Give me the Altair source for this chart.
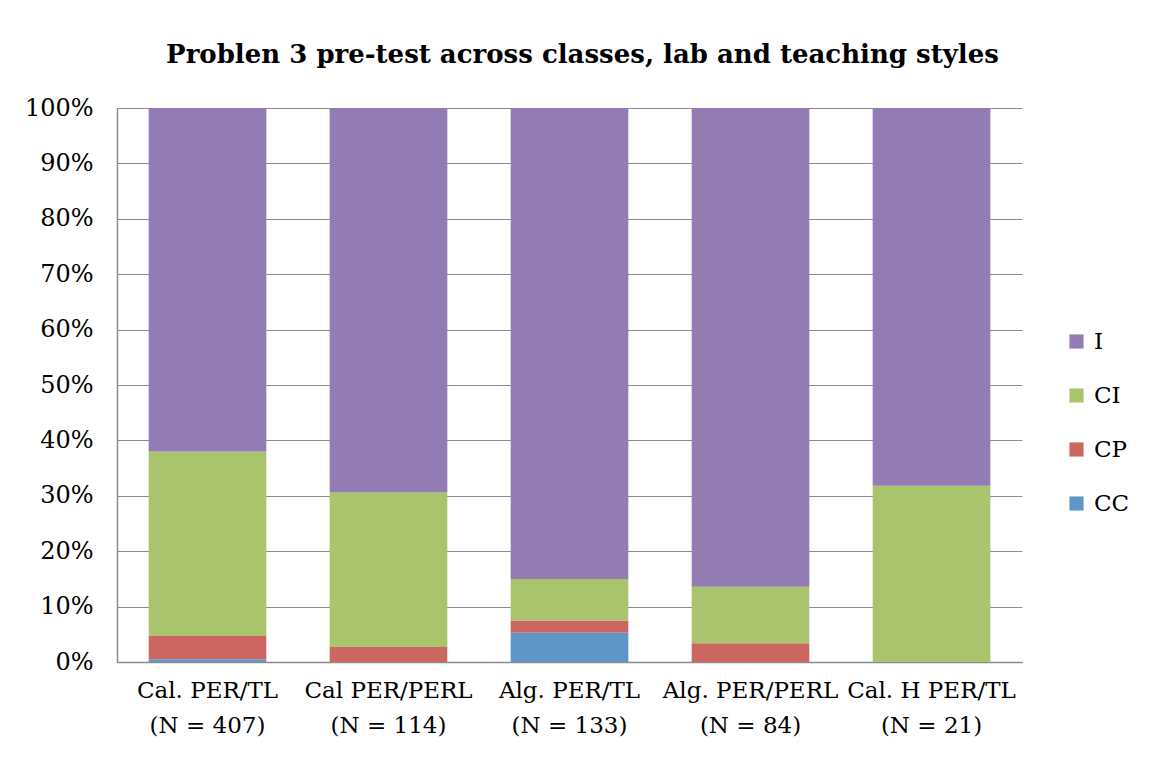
import altair as alt
import pandas as pd

categories = ["Cal. PER/TL\n(N = 407)", "Cal PER/PERL\n(N = 114)", "Alg. PER/TL\n(N = 133)",
              "Alg. PER/PERL\n(N = 84)", "Cal. H PER/TL\n(N = 21)"]
series = ["I", "CI", "CP", "CC"]
cc = [0.5, 0.0, 5.3, 0.0, 0.0]
cp = [4.2, 2.7, 2.2, 3.4, 0.0]
ci = [33.3, 27.9, 7.5, 10.2, 31.8]
i_ = [62.0, 69.4, 85.0, 86.4, 68.2]
colors = ["#937BB3", "#AAC46E", "#CC6660", "#5F96C8"]

rows = []
for k, c in enumerate(categories):
    for name, vals, o in [("CC", cc, 0), ("CP", cp, 1), ("CI", ci, 2), ("I", i_, 3)]:
        rows.append({"cat": c, "series": name, "value": vals[k] / 100.0, "ord": o})
df = pd.DataFrame(rows)

FONT = "DejaVu Serif"

chart = alt.Chart(df).mark_bar().encode(
    x=alt.X("cat:N", sort=categories,
            scale=alt.Scale(paddingInner=0.35, paddingOuter=0.175),
            axis=alt.Axis(title=None, labelAngle=0, ticks=False,
                          labelExpr="split(datum.label, '\\n')",
                          labelFont=FONT, labelFontSize=23, labelLineHeight=35,
                          labelPadding=17, labelColor="#000000",
                          domainColor="#8C8C8C", domainWidth=1.5, grid=False)),
    y=alt.Y("value:Q", stack="zero",
            scale=alt.Scale(domain=[0, 1]),
            axis=alt.Axis(title=None, format=".0%", values=[i / 10 for i in range(11)],
                          labelOverlap=False,
                          ticks=False, labelFont=FONT, labelFontSize=24, labelPadding=24,
                          labelColor="#000000", domainColor="#8C8C8C", domainWidth=1.5,
                          gridColor="#8C8C8C", gridWidth=1)),
    color=alt.Color("series:N", scale=alt.Scale(domain=series, range=colors),
                    legend=alt.Legend(title=None, orient="none", legendX=948, legendY=222,
                                      symbolType="square", symbolSize=200, symbolStrokeWidth=0,
                                      labelFont=FONT, labelFontSize=23, labelColor="#000000",
                                      rowPadding=30, labelOffset=6)),
    order=alt.Order("ord:Q"),
).properties(
    width=905, height=554,
    background="white",
    title=alt.TitleParams("Problen 3 pre-test across classes, lab and teaching styles",
                          font=FONT, fontSize=26, fontWeight="bold", color="#000000",
                          anchor="middle", offset=28, dx=13),
    padding={"left": 109, "top": 100, "right": 120, "bottom": 90},
    autosize=alt.AutoSizeParams(type="none"),
).configure_view(stroke=None)

chart.save("out.html", embed_options={"renderer": "svg", "actions": False})
